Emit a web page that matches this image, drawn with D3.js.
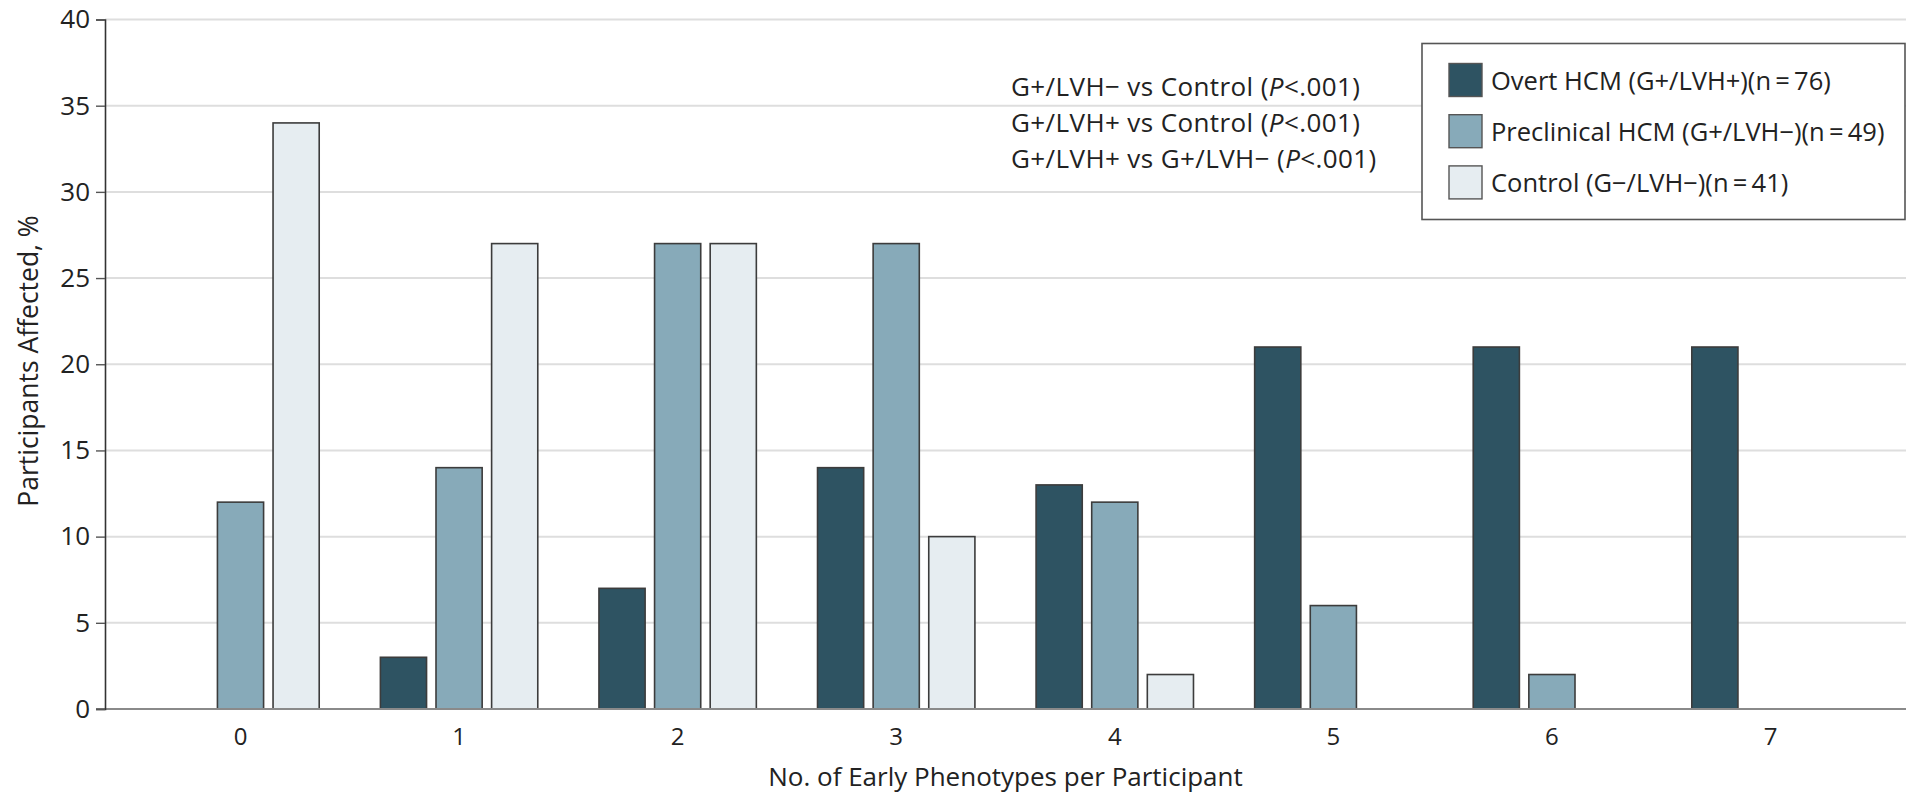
<!DOCTYPE html>
<html>
<head>
<meta charset="utf-8">
<script src="https://cdn.jsdelivr.net/npm/d3@7"></script>
<style>
  body { margin: 0; background: #fff; }
  svg { display: block; font-family: "Open Sans", "Noto Sans", sans-serif; }
</style>
</head>
<body>
<div id="chart"></div>
<script>
// Data: % of participants per number of early phenotypes
const categories = ["0", "1", "2", "3", "4", "5", "6", "7"];
const seriesNames = ["overt", "preclinical", "control"];
const overtHCM = [0, 3, 7, 14, 13, 21, 21, 21];
const preclinicalHCM = [12, 14, 27, 27, 12, 6, 2, 0];
const controlGroup = [34, 27, 27, 10, 2, 0, 0, 0];
const yTicks = [0, 5, 10, 15, 20, 25, 30, 35, 40];
const legendLabels = [
  "Overt HCM (G+/LVH+)(n\u2009=\u200976)",
  "Preclinical HCM (G+/LVH\u2212)(n\u2009=\u200949)",
  "Control (G\u2212/LVH\u2212)(n\u2009=\u200941)"
];
const pLines = [
  "G+/LVH\u2212 vs Control (",
  "G+/LVH+ vs Control (",
  "G+/LVH+ vs G+/LVH\u2212 ("
];

const colors = {overt: "#2e5362", preclinical: "#87aab9", control: "#e6edf1"};

const W = 1906, H = 793;
const plot = {left: 105, right: 1906, top: 19.5, bottom: 709};

const svg = d3.select("#chart").append("svg")
  .attr("width", W).attr("height", H);

const x0 = d3.scaleBand()
  .domain(categories)
  .range([plot.left, plot.right])
  .paddingInner(0)
  .paddingOuter(0.12);

const x1 = d3.scaleBand()
  .domain(seriesNames)
  .range([0, x0.bandwidth()])
  .paddingInner(0.17)
  .paddingOuter(0.55);

const y = d3.scaleLinear().domain([0, 40]).range([plot.bottom, plot.top]);

// gridlines
svg.append("g").selectAll("line")
  .data(yTicks.filter(d => d > 0))
  .enter().append("line")
  .attr("x1", plot.left).attr("x2", plot.right)
  .attr("y1", d => y(d)).attr("y2", d => y(d))
  .attr("stroke", "#dedede").attr("stroke-width", 2);

// bars
const rows = categories.map((c, i) => ({
  cat: c,
  values: [
    {key: "overt", v: overtHCM[i]},
    {key: "preclinical", v: preclinicalHCM[i]},
    {key: "control", v: controlGroup[i]}
  ]
}));

const grp = svg.append("g").selectAll("g")
  .data(rows)
  .enter().append("g")
  .attr("transform", d => `translate(${x0(d.cat)},0)`);

grp.selectAll("rect")
  .data(d => d.values.filter(v => v.v > 0))
  .enter().append("rect")
  .attr("x", d => x1(d.key))
  .attr("width", x1.bandwidth())
  .attr("y", d => y(d.v))
  .attr("height", d => y(0) - y(d.v))
  .attr("fill", d => colors[d.key])
  .attr("stroke", "#3c3c3c")
  .attr("stroke-width", 1.6);

// zero line
svg.append("line")
  .attr("x1", plot.left - 9).attr("x2", plot.right)
  .attr("y1", y(0)).attr("y2", y(0))
  .attr("stroke", "#8a8a8a").attr("stroke-width", 2);

// y axis
const yAxis = svg.append("g")
  .attr("transform", `translate(${plot.left},0)`)
  .call(d3.axisLeft(y).tickValues(yTicks).tickSize(9).tickPadding(6));
yAxis.select(".domain").attr("stroke", "#333").attr("stroke-width", 1.6);
yAxis.selectAll(".tick line").attr("stroke", "#555").attr("stroke-width", 1.4);
yAxis.selectAll(".tick text")
  .style("font-size", "26px").style("font-family", "Open Sans").attr("fill", "#222");

// x axis labels
const xAxis = svg.append("g")
  .attr("transform", `translate(0,${plot.bottom})`)
  .call(d3.axisBottom(x0).tickSize(0).tickPadding(19));
xAxis.select(".domain").remove();
xAxis.selectAll(".tick text")
  .style("font-size", "24px").style("font-family", "Open Sans").attr("fill", "#222");

// axis titles
svg.append("text")
  .attr("x", (plot.left + plot.right) / 2)
  .attr("y", 786)
  .attr("text-anchor", "middle")
  .style("font-size", "26px")
  .attr("fill", "#222")
  .text("No. of Early Phenotypes per Participant");

svg.append("text")
  .attr("transform", `translate(38,${361}) rotate(-90)`)
  .attr("text-anchor", "middle")
  .style("font-size", "26.5px")
  .attr("fill", "#222")
  .text("Participants Affected, %");

// P-value annotations
const ann = svg.append("g").selectAll("text")
  .data(pLines)
  .enter().append("text")
  .attr("x", 1011)
  .attr("y", (d, i) => 96 + i * 36)
  .style("font-size", "26px")
  .style("letter-spacing", "0.4px")
  .attr("fill", "#222");
ann.append("tspan").text(d => d);
ann.append("tspan").style("font-style", "italic").text("P");
ann.append("tspan").text("<.001)");

// legend
const lg = svg.append("g");
lg.append("rect")
  .attr("x", 1422).attr("y", 43.5)
  .attr("width", 483).attr("height", 176)
  .attr("fill", "#fff").attr("stroke", "#555").attr("stroke-width", 1.6);

const items = lg.selectAll("g.item")
  .data(seriesNames)
  .enter().append("g")
  .attr("class", "item")
  .attr("transform", (d, i) => `translate(1449,${63.5 + i * 51.2})`);
items.append("rect")
  .attr("width", 33).attr("height", 33)
  .attr("fill", d => colors[d])
  .attr("stroke", "#555").attr("stroke-width", 1.4);
items.append("text")
  .attr("x", 42).attr("y", 26)
  .style("font-size", "25.5px")
  .attr("fill", "#222")
  .text((d, i) => legendLabels[i]);
</script>
</body>
</html>
